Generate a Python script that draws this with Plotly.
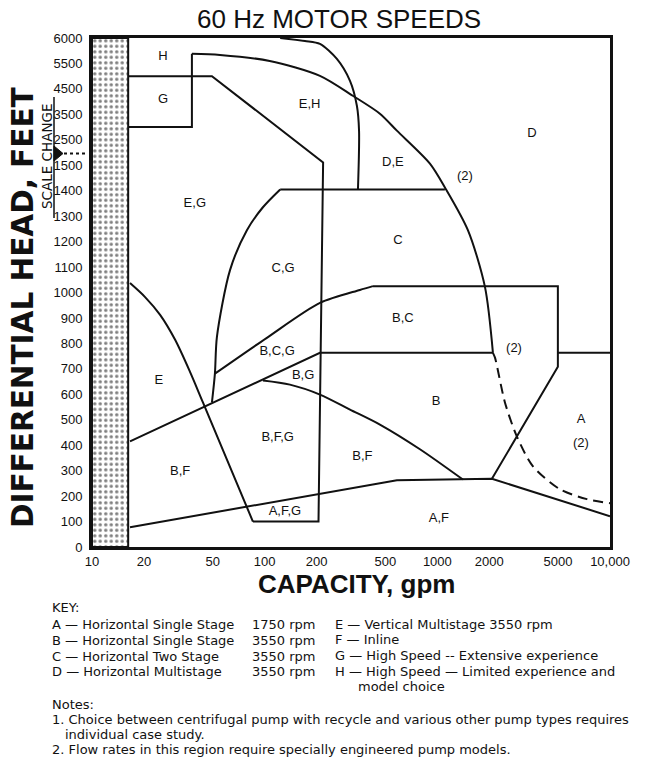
import numpy as np
import plotly.graph_objects as go

# ---- axis ticks -------------------------------------------------------------
CAP_TICKS = [10, 20, 50, 100, 200, 500, 1000, 2000, 5000, 10000]
CAP_TICK_TEXT = ["10", "20", "50", "100", "200", "500", "1000", "2000", "5000", "10,000"]
HEAD_TICKS = [0, 100, 200, 300, 400, 500, 600, 700, 800, 900, 1000, 1100, 1200,
              1300, 1400, 1500, 2500, 3500, 4500, 5500, 6000]

# ---- region boundaries: capacity (gpm) / head (ft) ---------------------------
# dotted band at very low flow (note 1)
band_cap = [10, 16.2, 16.2, 10, 10]
band_head = [0, 0, 6000, 6000, 0]

# H / G divider, G upper limit, then down the 200 gpm line to 100 ft
line_gh_cap = [16.2, 49.5, 218, 205, 85.5]
line_gh_head = [5000, 5000, 1610, 100, 100]

# E region upper-right limit (curved)
curve_e_cap = [85.5, 43.9, 36.9, 30.3, 24.8, 20.3, 16.6]
curve_e_head = [100, 568, 689, 814, 912, 982, 1037]

# G box at 3000 ft
line_gbox_cap = [16.2, 37.9, 37.9]
line_gbox_head = [3000, 3000, 5690]

# H / E,H / C / B,C outer arc
curve_arc_cap = [37.9, 55.1, 107, 209, 324, 465, 583, 906, 1106, 1503, 1887, 2099]
curve_arc_head = [5690, 5667, 5550, 5013, 4230, 3526, 2860, 1566, 1413, 1245, 1022, 763]

# arc continued (region needing special pumps)
curve_arc_dash_cap = [2099, 2157, 2463, 2890, 3580, 5128, 7350, 10000]
curve_arc_dash_head = [763, 744, 568, 434, 317, 227, 188, 172]

# E,H right limit
curve_eh_cap = [123, 171, 209, 262, 312, 342, 352, 347]
curve_eh_head = [6000, 5940, 5883, 5589, 4817, 3838, 2860, 1405]

# C,G left limit, then the 1400 ft line
curve_cg_cap = [49.5, 51.5, 52.9, 63.0, 78.9, 97.7, 123]
curve_cg_head = [568, 681, 826, 1088, 1245, 1335, 1405]
line_1400_cap = [123, 1106]
line_1400_head = [1405, 1405]

# B,C upper limit (curved) and B,C box
curve_bc_cap = [51.5, 103, 209, 356, 424]
curve_bc_head = [681, 822, 959, 1010, 1025]
line_bcbox_cap = [424, 4990, 4990, 2071]
line_bcbox_head = [1025, 1025, 708, 268]

# B,F / E divider and the 760 ft line
line_bf_cap = [16.6, 209, 2099]
line_bf_head = [415, 763, 763]
line_a_top_cap = [4990, 10000]
line_a_top_head = [763, 763]

# B,G / B,F,G curve
curve_bg_cap = [97.7, 140, 209, 312, 465, 793, 1406]
curve_bg_head = [654, 638, 599, 540, 481, 384, 265]

# A,F upper limit
line_af_cap = [16.6, 583, 2071, 10000]
line_af_head = [78, 262, 268, 121]

# ---- region labels ------------------------------------------------------------
label_text = ["H", "G", "E,H", "D", "D,E", "(2)", "E,G", "C", "C,G", "B,C", "(2)",
              "B,C,G", "B,G", "E", "B", "A", "(2)", "B,F,G", "B,F", "B,F", "A,F,G", "A,F"]
label_cap = [25.8, 25.8, 182, 3530, 553, 1445, 39.4, 591, 128, 632, 2780,
             118, 167, 24.4, 982, 6790, 6790, 119, 368, 32.4, 131, 1021]
label_head = [5630, 4070, 3860, 2740, 1610, 1456, 1350, 1205, 1092, 896, 779,
              767, 673, 654, 571, 501, 407, 431, 356, 294, 137, 110]

KEY_LEFT = [
    ("A — Horizontal Single Stage", "1750 rpm"),
    ("B — Horizontal Single Stage", "3550 rpm"),
    ("C — Horizontal Two Stage", "3550 rpm"),
    ("D — Horizontal Multistage", "3550 rpm"),
]
KEY_RIGHT = [
    "E — Vertical Multistage 3550 rpm",
    "F — Inline",
    "G — High Speed -- Extensive experience",
    "H — High Speed — Limited experience and",
]
KEY_RIGHT_WRAP = "model choice"
NOTES = [
    ("Notes:", 0),
    ("1. Choice between centrifugal pump with recycle and various other pump types requires", 0),
    ("individual case study.", 13),
    ("2. Flow rates in this region require specially engineered pump models.", 0),
]


def head_axis(h):
    """Map head (ft) onto the split vertical scale: 100 ft steps up to 1500,
    1000 ft steps up to 5500, then one 500 ft step to 6000."""
    h = np.asarray(h, dtype=float)
    return np.where(h <= 1500, h / 100.0,
                    np.where(h <= 5500, 15 + (h - 1500) / 1000.0, 19 + (h - 5500) / 500.0))


# plot box in pixels
PL, PT, PW, PH = 92, 38, 518, 509
W, H = 645, 757


def px(x):
    return (x - PL) / PW


def py(y):
    return (PT + PH - y) / PH


INK = "#111111"
SANS = "Liberation Sans, Arial, sans-serif"
WIDE = "DejaVu Sans, sans-serif"

fig = go.Figure()

fig.add_trace(go.Scatter(
    x=band_cap, y=head_axis(band_head), mode="lines", fill="toself",
    fillcolor="white",
    fillpattern=dict(shape=".", fgcolor="#000000", bgcolor="white", size=5.5, solidity=0.3),
    line=dict(color=INK, width=2), hoverinfo="skip", showlegend=False))

straight = [
    (line_gh_cap, line_gh_head),
    (line_gbox_cap, line_gbox_head),
    (line_1400_cap, line_1400_head),
    (line_bcbox_cap, line_bcbox_head),
    (line_bf_cap, line_bf_head),
    (line_a_top_cap, line_a_top_head),
    (line_af_cap, line_af_head),
]
for cx, hy in straight:
    fig.add_trace(go.Scatter(x=cx, y=head_axis(hy), mode="lines",
                             line=dict(color=INK, width=2), hoverinfo="skip",
                             showlegend=False))

curved = [
    (curve_e_cap, curve_e_head),
    (curve_arc_cap, curve_arc_head),
    (curve_eh_cap, curve_eh_head),
    (curve_cg_cap, curve_cg_head),
    (curve_bc_cap, curve_bc_head),
    (curve_bg_cap, curve_bg_head),
]
for cx, hy in curved:
    fig.add_trace(go.Scatter(x=cx, y=head_axis(hy), mode="lines",
                             line=dict(color=INK, width=2, shape="spline", smoothing=0.8),
                             hoverinfo="skip", showlegend=False))

fig.add_trace(go.Scatter(x=curve_arc_dash_cap, y=head_axis(curve_arc_dash_head), mode="lines",
                         line=dict(color=INK, width=2, dash="10px,6px", shape="spline",
                                   smoothing=0.8),
                         hoverinfo="skip", showlegend=False))

fig.add_trace(go.Scatter(x=label_cap, y=head_axis(label_head), mode="text", text=label_text,
                         textposition="middle center",
                         textfont=dict(family=SANS, size=13, color=INK),
                         hoverinfo="skip", showlegend=False))

KEY_FONT = dict(family=WIDE, size=13, color=INK)
annotations = [
    dict(text="60 Hz MOTOR SPEEDS", x=px(339), y=py(19), xanchor="center", yanchor="middle",
         font=dict(family=SANS, size=26, color=INK)),
    dict(text="<b>CAPACITY, gpm</b>", x=px(356), y=py(584), xanchor="center", yanchor="middle",
         font=dict(family=SANS, size=26, color=INK)),
    dict(text="<b>DIFFERENTIAL HEAD, FEET</b>", x=px(23), y=py(308), xanchor="center",
         yanchor="middle", textangle=-90, font=dict(family=WIDE, size=29.5, color=INK)),
    dict(text="SCALE CHANGE", x=px(47), y=py(157), xanchor="center", yanchor="middle",
         textangle=-90, font=dict(family=WIDE, size=13.5, color=INK)),
    dict(text="KEY:", x=px(50), y=py(607), xanchor="left", yanchor="middle", font=KEY_FONT),
]
for i, (name, rpm) in enumerate(KEY_LEFT):
    yy = py(624 + i * 16)
    annotations.append(dict(text=name, x=px(50), y=yy, xanchor="left", yanchor="middle",
                            font=KEY_FONT))
    annotations.append(dict(text=rpm, x=px(250), y=yy, xanchor="left", yanchor="middle",
                            font=KEY_FONT))
for i, line in enumerate(KEY_RIGHT):
    annotations.append(dict(text=line, x=px(333), y=py(624 + i * 15.7), xanchor="left",
                            yanchor="middle", font=KEY_FONT))
annotations.append(dict(text=KEY_RIGHT_WRAP, x=px(356), y=py(686), xanchor="left",
                        yanchor="middle", font=KEY_FONT))
for i, (line, indent) in enumerate(NOTES):
    annotations.append(dict(text=line, x=px(50 + indent), y=py(704 + i * 15.3),
                            xanchor="left", yanchor="middle", font=KEY_FONT))
for a in annotations:
    a.update(xref="paper", yref="paper", showarrow=False)

shapes = [
    # underline beside the rotated "SCALE CHANGE" text
    dict(type="line", xref="paper", yref="paper", x0=px(54), x1=px(54), y0=py(97), y1=py(218),
         line=dict(color=INK, width=1.5)),
    # pointer and dotted leader at the scale break
    dict(type="path", xref="paper", yref="paper",
         path=f"M {px(54)},{py(146)} L {px(63)},{py(153.5)} L {px(54)},{py(161)} Z",
         fillcolor=INK, line=dict(color=INK, width=1)),
    dict(type="line", xref="paper", yref="paper", x0=px(64), x1=px(88), y0=py(153.5),
         y1=py(153.5), line=dict(color=INK, width=2, dash="dot")),
]

fig.update_layout(
    width=W, height=H, margin=dict(l=PL, r=W - PL - PW, t=PT, b=H - PT - PH),
    paper_bgcolor="white", plot_bgcolor="white",
    annotations=annotations, shapes=shapes, showlegend=False,
    xaxis=dict(type="log", range=[1, 4], tickvals=CAP_TICKS, ticktext=CAP_TICK_TEXT,
               showgrid=False, zeroline=False, showline=True, mirror=True, linewidth=3,
               linecolor=INK, ticks="", tickfont=dict(family=SANS, size=13, color=INK),
               ticklabelstandoff=0, fixedrange=True),
    yaxis=dict(range=[0, 20], tickvals=list(head_axis(HEAD_TICKS)),
               ticktext=[str(v) for v in HEAD_TICKS],
               showgrid=False, zeroline=False, showline=True, mirror=True, linewidth=3,
               linecolor=INK, ticks="", tickfont=dict(family=SANS, size=13, color=INK),
               ticklabelstandoff=4, fixedrange=True),
)

fig.write_html("out.html")
